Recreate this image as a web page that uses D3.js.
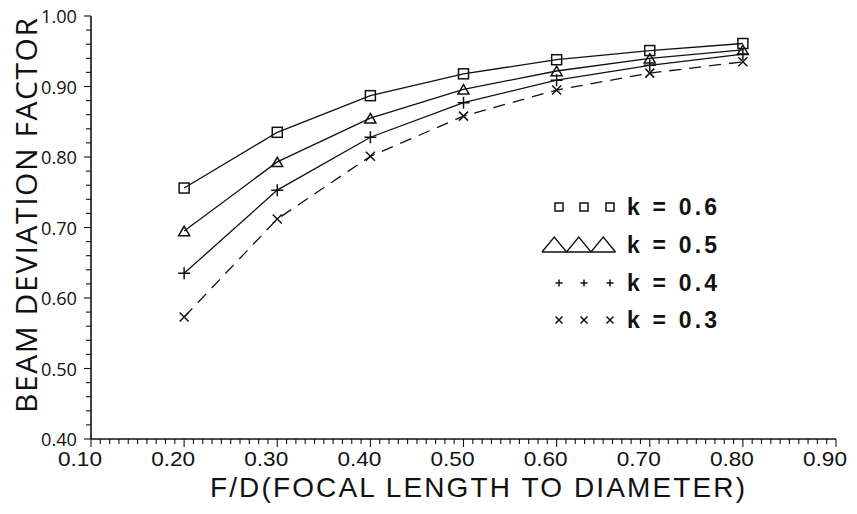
<!DOCTYPE html>
<html>
<head>
<meta charset="utf-8">
<script src="https://cdn.jsdelivr.net/npm/d3@7"></script>
<style>
  html, body { margin: 0; padding: 0; background: #fff; }
  svg { display: block; }
</style>
</head>
<body>
<svg id="chart" width="857" height="514"></svg>
<script>
// ---- data ----
const fdRatio = [0.2, 0.3, 0.4, 0.5, 0.6, 0.7, 0.8];
const k06 = [0.756, 0.835, 0.887, 0.918, 0.938, 0.951, 0.961];
const k05 = [0.695, 0.793, 0.855, 0.896, 0.922, 0.940, 0.952];
const k04 = [0.635, 0.753, 0.828, 0.877, 0.909, 0.930, 0.946];
const k03 = [0.573, 0.712, 0.801, 0.858, 0.895, 0.919, 0.935];
const seriesNames = ["k = 0.6", "k = 0.5", "k = 0.4", "k = 0.3"];
const seriesSymbols = ["square", "triangle", "plus", "cross"];
const xTickLabels = ["0.10", "0.20", "0.30", "0.40", "0.50", "0.60", "0.70", "0.80", "0.90"];
const yTickLabels = ["0.40", "0.50", "0.60", "0.70", "0.80", "0.90", "1.00"];
const xTitle = "F/D(FOCAL LENGTH TO DIAMETER)";
const yTitle = "BEAM DEVIATION FACTOR";

const seriesValues = [k06, k05, k04, k03];
const series = seriesNames.map((name, i) => ({
  name, symbol: seriesSymbols[i],
  dashed: i === 3,
  points: fdRatio.map((x, j) => ({ x, y: seriesValues[i][j] }))
}));

// ---- layout ----
const svg = d3.select("#chart");
const x = d3.scaleLinear().domain([0.1, 0.9]).range([91, 836]);
const y = d3.scaleLinear().domain([0.4, 1.0]).range([439, 16]);
const ink = "#111";
const thinFont = "'Open Sans', 'Liberation Sans', sans-serif";
const axisFont = "'Liberation Sans', Arial, sans-serif";

// axes lines
svg.append("line").attr("x1", x(0.1)).attr("x2", x(0.9)).attr("y1", y(0.4)).attr("y2", y(0.4))
  .attr("stroke", ink).attr("stroke-width", 1.6);
svg.append("line").attr("x1", x(0.1)).attr("x2", x(0.1)).attr("y1", y(0.4)).attr("y2", y(1.0))
  .attr("stroke", ink).attr("stroke-width", 1.6);

// x ticks (minor every 0.01, major every 0.1)
const xMinor = d3.range(0, 81).map(i => 0.1 + i * 0.01);
svg.append("g").selectAll("line").data(xMinor).join("line")
  .attr("x1", d => x(d)).attr("x2", d => x(d))
  .attr("y1", y(0.4))
  .attr("y2", (d, i) => y(0.4) + (i % 10 === 0 ? 8 : 5))
  .attr("stroke", ink).attr("stroke-width", 1.1);

// y ticks (minor every 0.02)
const yMinor = d3.range(0, 31).map(i => 0.4 + i * 0.02);
svg.append("g").selectAll("line").data(yMinor).join("line")
  .attr("x1", x(0.1)).attr("x2", (d, i) => x(0.1) - (i % 5 === 0 ? 7 : 5))
  .attr("y1", d => y(d)).attr("y2", d => y(d))
  .attr("stroke", ink).attr("stroke-width", 1.1);

// x tick labels
svg.append("g").selectAll("text").data(xTickLabels).join("text")
  .attr("x", d => x(+d) - 11).attr("y", 466)
  .attr("text-anchor", "middle")
  .attr("font-family", axisFont).attr("font-size", 21)
  .attr("textLength", 44).attr("lengthAdjust", "spacingAndGlyphs")
  .attr("fill", ink)
  .text(d => d);

// y tick labels (condensed)
svg.append("g").selectAll("text").data(yTickLabels).join("text")
  .attr("x", 41).attr("y", d => y(+d) + 7)
  .attr("font-family", thinFont).attr("font-size", 18)
  .attr("textLength", 36).attr("lengthAdjust", "spacingAndGlyphs")
  .attr("fill", ink)
  .text(d => d);

// axis titles
svg.append("text")
  .attr("x", 210).attr("y", 497)
  .attr("font-family", axisFont).attr("font-size", 28)
  .attr("textLength", 535).attr("lengthAdjust", "spacing")
  .attr("fill", ink)
  .text(xTitle);

svg.append("text")
  .attr("transform", "translate(37,413) rotate(-90)")
  .attr("x", 0).attr("y", 0)
  .attr("font-family", thinFont).attr("font-size", 30)
  .attr("textLength", 395).attr("lengthAdjust", "spacing")
  .attr("fill", ink)
  .text(yTitle);

// lines
const line = d3.line().x(d => x(d.x)).y(d => y(d.y));
svg.append("g").selectAll("path").data(series).join("path")
  .attr("d", d => line(d.points))
  .attr("fill", "none").attr("stroke", ink).attr("stroke-width", 1.3)
  .attr("stroke-dasharray", d => d.dashed ? "12,8" : null);

// marker drawing
function drawMarker(g, type, cx, cy, s) {
  if (type === "square") {
    g.append("rect").attr("x", cx - s / 2).attr("y", cy - s / 2).attr("width", s).attr("height", s)
      .attr("fill", "none").attr("stroke", ink).attr("stroke-width", 1.5);
  } else if (type === "triangle") {
    const h = s * 0.85;
    g.append("path").attr("d", `M${cx - s / 2},${cy + h / 2}L${cx},${cy - h / 2}L${cx + s / 2},${cy + h / 2}Z`)
      .attr("fill", "none").attr("stroke", ink).attr("stroke-width", 1.5);
  } else if (type === "plus") {
    g.append("path").attr("d", `M${cx - s / 2},${cy}H${cx + s / 2}M${cx},${cy - s / 2}V${cy + s / 2}`)
      .attr("stroke", ink).attr("stroke-width", 1.5);
  } else if (type === "cross") {
    const r = s / 2;
    g.append("path").attr("d", `M${cx - r},${cy - r}L${cx + r},${cy + r}M${cx - r},${cy + r}L${cx + r},${cy - r}`)
      .attr("stroke", ink).attr("stroke-width", 1.5);
  }
}

const markerSize = { square: 10, triangle: 11, plus: 12, cross: 9 };
const mg = svg.append("g");
series.forEach(s => {
  s.points.forEach(p => drawMarker(mg, s.symbol, x(p.x), y(p.y), markerSize[s.symbol]));
});

// legend
const legendRowY = [207, 245, 283, 320];
const legendSymX = [559, 584, 610];
const lg = svg.append("g");
series.forEach((s, i) => {
  const cy = legendRowY[i];
  if (s.symbol === "triangle") {
    // three large triangles sharing a base line
    const base = cy + 7, top = cy - 8, w = 24.5, x0 = 542;
    let d = `M${x0},${base}`;
    for (let k = 0; k < 3; k++) {
      d += `L${x0 + w * k + w / 2},${top}L${x0 + w * (k + 1)},${base}`;
    }
    d += `M${x0},${base}H${x0 + 3 * w}`;
    lg.append("path").attr("d", d).attr("fill", "none").attr("stroke", ink).attr("stroke-width", 1.4);
  } else {
    const sz = s.symbol === "square" ? 8 : 7;
    legendSymX.forEach(lx => drawMarker(lg, s.symbol, lx, cy, sz));
  }
  lg.append("text")
    .attr("x", 627).attr("y", cy + 8)
    .attr("font-family", "'Liberation Sans', Arial, sans-serif")
    .attr("font-weight", "bold").attr("font-size", 23)
    .attr("textLength", 90).attr("lengthAdjust", "spacing")
    .attr("fill", ink)
    .text(s.name);
});
</script>
</body>
</html>
